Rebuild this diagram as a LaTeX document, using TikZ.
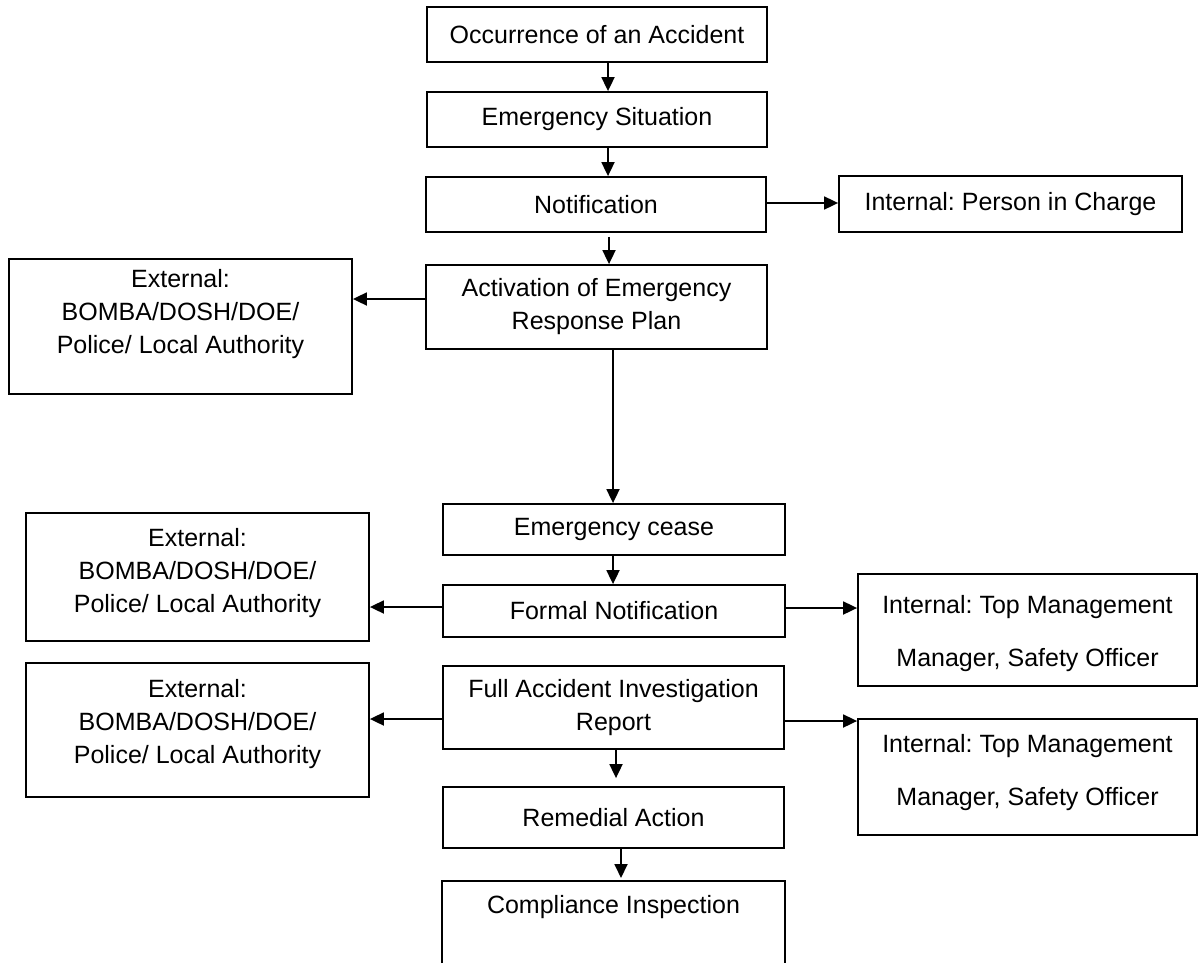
\documentclass[tikz,border=0pt]{standalone}
\usepackage{fontspec}
\setmainfont{Liberation Sans}
\frenchspacing
\usetikzlibrary{positioning,arrows.meta}
\newcommand{\lifted}[2]{\raisebox{#1}[\height][\depth]{\begin{tabular}{@{}c@{}}#2\end{tabular}}}

\begin{document}
\begin{tikzpicture}[x=0.5pt, y=-0.5pt, line width=0.9pt,
    >={Triangle[length=7pt, width=6.5pt]},
    stage/.style={draw, align=center, font=\fontsize{12.5}{16.5}\selectfont,
      minimum width=170pt, minimum height=27.5pt, inner sep=2pt}]
        \useasboundingbox (0,0) rectangle (1198,963);
        % main column
        \node[stage] (occur) at (597,34.5) {Occurrence of an Accident};
        \node[stage] (emsit) at (597,119.5) {Emergency Situation};
        \node[stage] (notif) at (596,204.5) {Notification};
        \node[stage, minimum width=171.5pt, minimum height=28pt] (pic) at (1010.5,204) {Internal: Person in Charge};
        \node[stage, minimum width=170.5pt, minimum height=42pt] (activ) at (596.5,307) {Activation of Emergency\\Response Plan};
        \node[stage, minimum width=171.5pt, minimum height=67.5pt] (ext1) at (180.5,326.5) {\lifted{6.5pt}{External:\\BOMBA/DOSH/DOE/\\Police/ Local Authority}};
        \node[stage, minimum width=171pt, minimum height=25.5pt] (cease) at (614,529.5) {Emergency cease};
        \node[stage, minimum width=171pt, minimum height=26pt] (formal) at (614,611) {Formal Notification};
        \node[stage, minimum width=171.5pt, minimum height=64pt] (ext2) at (197.5,577) {\lifted{2pt}{External:\\BOMBA/DOSH/DOE/\\Police/ Local Authority}};
        \node[stage, minimum width=169.5pt, minimum height=56pt] (int1) at (1027.5,630) {\lifted{-1.75pt}{Internal: Top Management\\[10pt]Manager, Safety Officer}};
        \node[stage, minimum width=170.5pt, minimum height=41.5pt] (full) at (613.5,707.5) {Full Accident Investigation\\Report};
        \node[stage, minimum width=171.5pt, minimum height=67pt] (ext3) at (197.5,730) {\lifted{3.25pt}{External:\\BOMBA/DOSH/DOE/\\Police/ Local Authority}};
        \node[stage, minimum width=169.5pt, minimum height=58pt] (int2) at (1027.5,777) {\lifted{2.25pt}{Internal: Top Management\\[10pt]Manager, Safety Officer}};
        \node[stage, minimum width=170.5pt, minimum height=30.5pt] (rem) at (613.5,817.5) {Remedial Action};
        \node[stage, draw=none, minimum width=170.5pt] (comp) at (613.5,907) {Compliance Inspection};
        \coordinate (comptop) at (613.5,881);
        \draw (comp.west |- 0,963) |- (comp.east |- comptop) -- (comp.east |- 0,963);
        % connectors
        \path (occur.south -| 608,0) edge [->] (emsit.north -| 608,0);
        \path (emsit.south -| 608,0) edge [->] (notif.north -| 608,0);
        \path ([yshift=0.75pt]notif.east) edge [->] ([yshift=0.75pt]notif.east -| pic.west);
        \path (notif.south -| 609,0) edge [->, shorten <=2pt] (activ.north -| 609,0);
        \path ([yshift=4pt]activ.west) edge [->] ([yshift=4pt]activ.west -| ext1.east);
        \path (activ.south -| 613,0) edge [->] (cease.north -| 613,0);
        \path (cease.south -| 613,0) edge [->] (formal.north -| 613,0);
        \path ([yshift=2pt]formal.west) edge [->] ([yshift=2pt]formal.west -| ext2.east);
        \path ([yshift=1.5pt]formal.east) edge [->] ([yshift=1.5pt]formal.east -| int1.west);
        \path ([yshift=-5.75pt]full.west) edge [->] ([yshift=-5.75pt]full.west -| ext3.east);
        \path ([yshift=-6.75pt]full.east) edge [->] ([yshift=-6.75pt]full.east -| int2.west);
        \path (full.south -| 616,0) edge [->, shorten >=4pt] (rem.north -| 616,0);
        \path (rem.south -| 621,0) edge [->, shorten >=1.5pt] (comptop -| 621,0);
    \end{tikzpicture}
\end{document}
